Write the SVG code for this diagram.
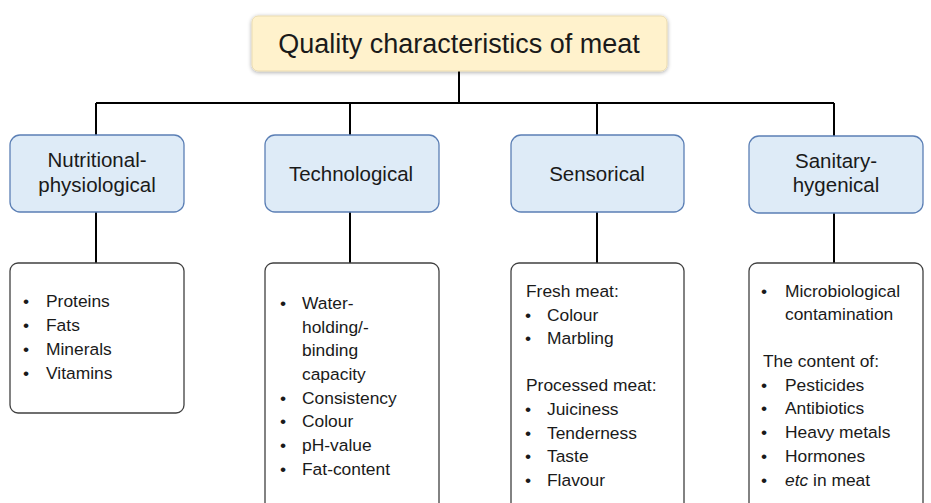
<svg xmlns="http://www.w3.org/2000/svg" width="931" height="503" viewBox="0 0 931 503">
<style>
text{font-family:"Liberation Sans",Arial,sans-serif;fill:#1a1a1a}
.t{font-size:27px}
.c{font-size:20.5px;text-anchor:middle}
.b{font-size:17.4px}
.cat{fill:#DEEBF7;stroke:#5B7FB5;stroke-width:1.3}
.det{fill:#fff;stroke:#404040;stroke-width:1.3}
.ln{stroke:#000;stroke-width:2;fill:none}
</style>
<defs>
<filter id="sh" x="-10%" y="-30%" width="120%" height="160%">
<feGaussianBlur in="SourceAlpha" stdDeviation="2"/>
<feOffset dx="0" dy="1"/>
<feComponentTransfer><feFuncA type="linear" slope="0.35"/></feComponentTransfer>
<feMerge><feMergeNode/><feMergeNode in="SourceGraphic"/></feMerge>
</filter>
</defs>
<g id="connectors">
<path class="ln" d="M459 71V103M96 103H834M96 103V135M350 103V135M597 103V135M834 103V136"/>
<path class="ln" d="M96 212V263M350 212V263M597 212V263M834 213V263"/>
</g>
<g id="root">
<rect x="252" y="16" width="415" height="55" rx="6" fill="#FFF2CC" stroke="#EADBB0" stroke-width="1" filter="url(#sh)"/>
<text class="t" x="459" y="53" text-anchor="middle">Quality characteristics of meat</text>
</g>
<g id="cat1">
<rect class="cat" x="10" y="135" width="174" height="77" rx="10"/>
<text class="c" x="97" y="167">Nutritional-</text>
<text class="c" x="97" y="192">physiological</text>
</g>
<g id="cat2">
<rect class="cat" x="265" y="135" width="174" height="77" rx="10"/>
<text class="c" x="351" y="181">Technological</text>
</g>
<g id="cat3">
<rect class="cat" x="511" y="135" width="173" height="77" rx="10"/>
<text class="c" x="597" y="181">Sensorical</text>
</g>
<g id="cat4">
<rect class="cat" x="749" y="136" width="174" height="77" rx="10"/>
<text class="c" x="836" y="168">Sanitary-</text>
<text class="c" x="836" y="192">hygenical</text>
</g>
<g id="det1">
<rect class="det" x="10" y="263" width="174" height="150" rx="8"/>
<g class="b">
<text x="23" y="307">•</text><text x="46" y="307">Proteins</text>
<text x="23" y="331">•</text><text x="46" y="331">Fats</text>
<text x="23" y="355">•</text><text x="46" y="355">Minerals</text>
<text x="23" y="379">•</text><text x="46" y="379">Vitamins</text>
</g>
</g>
<g id="det2">
<rect class="det" x="265" y="263" width="174" height="250" rx="8"/>
<g class="b">
<text x="280" y="309">•</text><text x="302" y="309">Water-</text>
<text x="302" y="333">holding/-</text>
<text x="302" y="356">binding</text>
<text x="302" y="380">capacity</text>
<text x="280" y="404">•</text><text x="302" y="404">Consistency</text>
<text x="280" y="427">•</text><text x="302" y="427">Colour</text>
<text x="280" y="451">•</text><text x="302" y="451">pH-value</text>
<text x="280" y="475">•</text><text x="302" y="475">Fat-content</text>
</g>
</g>
<g id="det3">
<rect class="det" x="511" y="263" width="173" height="250" rx="8"/>
<g class="b">
<text x="526" y="297">Fresh meat:</text>
<text x="525" y="321">•</text><text x="547" y="321">Colour</text>
<text x="525" y="344">•</text><text x="547" y="344">Marbling</text>
<text x="526" y="391">Processed meat:</text>
<text x="525" y="415">•</text><text x="547" y="415">Juiciness</text>
<text x="525" y="439">•</text><text x="547" y="439">Tenderness</text>
<text x="525" y="462">•</text><text x="547" y="462">Taste</text>
<text x="525" y="486">•</text><text x="547" y="486">Flavour</text>
</g>
</g>
<g id="det4">
<rect class="det" x="749" y="263" width="174" height="250" rx="8"/>
<g class="b">
<text x="761" y="297">•</text><text x="785" y="297">Microbiological</text>
<text x="785" y="320">contamination</text>
<text x="763" y="367">The content of:</text>
<text x="761" y="391">•</text><text x="785" y="391">Pesticides</text>
<text x="761" y="414">•</text><text x="785" y="414">Antibiotics</text>
<text x="761" y="438">•</text><text x="785" y="438">Heavy metals</text>
<text x="761" y="462">•</text><text x="785" y="462">Hormones</text>
<text x="761" y="486">•</text><text x="785" y="486"><tspan font-style="italic">etc</tspan> in meat</text>
</g>
</g>
</svg>
